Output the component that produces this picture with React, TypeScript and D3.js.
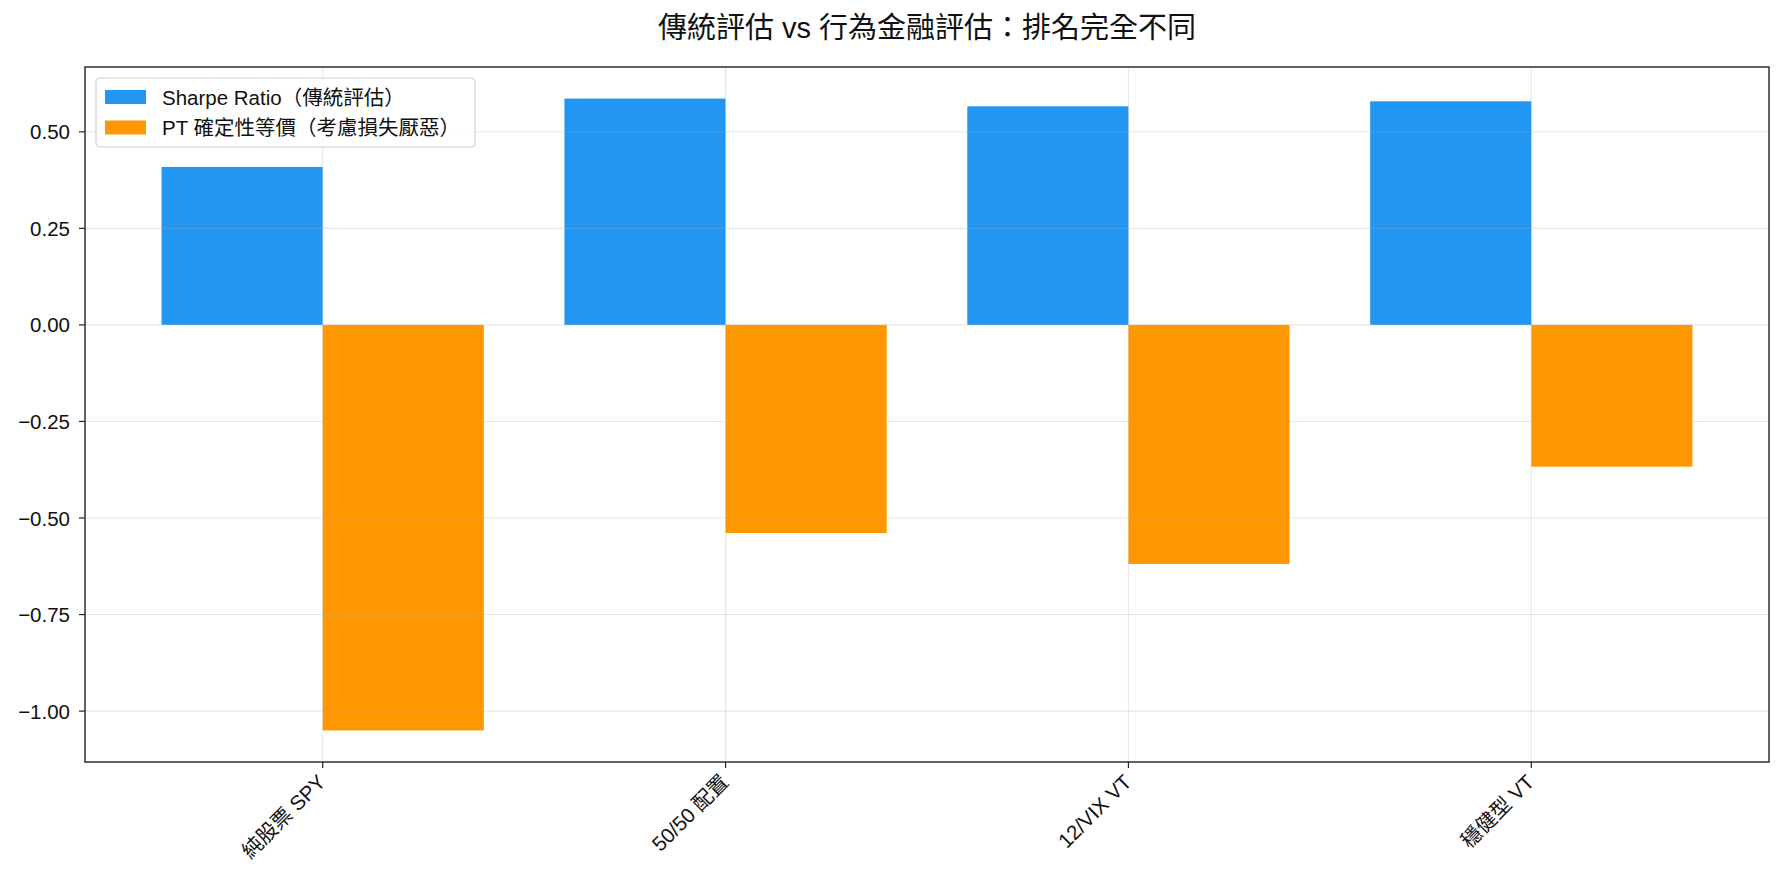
import React, { useEffect, useRef } from 'react';
import * as d3 from 'd3';

const categories = ['純股票 SPY', '50/50 配置', '12/VIX VT', '穩健型 VT'];
const sharpeValues = [0.409, 0.586, 0.566, 0.579];
const ptValues = [-1.05, -0.539, -0.619, -0.367];
const seriesNames = ['Sharpe Ratio（傳統評估）', 'PT 確定性等價（考慮損失厭惡）'];
const yTicks = [0.5, 0.25, 0, -0.25, -0.5, -0.75, -1.0];
const title = '傳統評估 vs 行為金融評估：排名完全不同';

const App: React.FC = () => {
  const svgRef = useRef<SVGSVGElement>(null);
  const width = 1784;
  const height = 883;

  useEffect(() => {
    document.body.style.margin = '0';
    document.body.style.overflow = 'hidden';
    if (!svgRef.current) return;
    const svg = d3.select(svgRef.current);
    svg.selectAll('*').remove();

    const font = '"Liberation Sans", "Noto Sans CJK TC", sans-serif';
    const left = 85, right = 1769, top = 67, bottom = 762;
    const barW = 0.4;

    // matplotlib-like 5% margins
    const xMin = -barW, xMax = categories.length - 1 + barW;
    const xPad = (xMax - xMin) * 0.05;
    const allVals = [...sharpeValues, ...ptValues, 0];
    const yMin = d3.min(allVals)!, yMax = d3.max(allVals)!;
    const yPad = (yMax - yMin) * 0.05;

    const x = d3.scaleLinear().domain([xMin - xPad, xMax + xPad]).range([left, right]);
    const y = d3.scaleLinear().domain([yMin - yPad, yMax + yPad]).range([bottom, top]);

    svg.append('rect').attr('width', width).attr('height', height).attr('fill', '#fff');

    // bars
    const bars = svg.append('g');
    bars.selectAll('.sharpe')
      .data(sharpeValues)
      .enter()
      .append('rect')
      .attr('x', (_, i) => x(i - barW))
      .attr('width', x(barW) - x(0))
      .attr('y', d => y(Math.max(0, d)))
      .attr('height', d => Math.abs(y(d) - y(0)))
      .attr('fill', '#2196F3');
    bars.selectAll('.pt')
      .data(ptValues)
      .enter()
      .append('rect')
      .attr('x', (_, i) => x(i))
      .attr('width', x(barW) - x(0))
      .attr('y', d => y(Math.max(0, d)))
      .attr('height', d => Math.abs(y(d) - y(0)))
      .attr('fill', '#FF9800');

    // grid on top, translucent
    const grid = svg.append('g').attr('stroke', '#b0b0b0').attr('stroke-opacity', 0.3).attr('stroke-width', 1.1);
    yTicks.forEach(t => {
      grid.append('line').attr('x1', left).attr('x2', right).attr('y1', y(t)).attr('y2', y(t));
    });
    categories.forEach((_, i) => {
      grid.append('line').attr('x1', x(i)).attr('x2', x(i)).attr('y1', top).attr('y2', bottom);
    });

    // frame
    svg.append('rect')
      .attr('x', left).attr('y', top)
      .attr('width', right - left).attr('height', bottom - top)
      .attr('fill', 'none').attr('stroke', '#222').attr('stroke-width', 1.4);

    // y ticks
    const yAxis = svg.append('g');
    yTicks.forEach(t => {
      yAxis.append('line').attr('x1', left - 6).attr('x2', left).attr('y1', y(t)).attr('y2', y(t))
        .attr('stroke', '#222').attr('stroke-width', 1.2);
      yAxis.append('text')
        .attr('x', left - 15).attr('y', y(t))
        .attr('text-anchor', 'end').attr('dominant-baseline', 'central')
        .style('font-family', font).style('font-size', '20.5px').attr('fill', '#111')
        .text(t < 0 ? '\u2212' + Math.abs(t).toFixed(2) : t.toFixed(2));
    });

    // x ticks, labels rotated 45deg and right-aligned to the tick
    const xAxis = svg.append('g');
    categories.forEach((c, i) => {
      xAxis.append('line').attr('x1', x(i)).attr('x2', x(i)).attr('y1', bottom).attr('y2', bottom + 6)
        .attr('stroke', '#222').attr('stroke-width', 1.2);
      xAxis.append('text')
        .attr('transform', `translate(${x(i) - 1},${bottom + 16}) rotate(-45)`)
        .attr('text-anchor', 'end').attr('dominant-baseline', 'central')
        .style('font-family', font).style('font-size', '20.5px').attr('fill', '#111')
        .text(c);
    });

    // title
    svg.append('text')
      .attr('x', (left + right) / 2).attr('y', 28)
      .attr('text-anchor', 'middle').attr('dominant-baseline', 'central')
      .style('font-family', font).style('font-size', '29px').attr('fill', '#111')
      .text(title);

    // legend
    const lg = svg.append('g');
    lg.append('rect').attr('x', 96).attr('y', 78).attr('width', 379).attr('height', 69)
      .attr('rx', 4).attr('fill', '#fff').attr('fill-opacity', 0.8)
      .attr('stroke', '#d0d0d0').attr('stroke-width', 1.2);
    const colors = ['#2196F3', '#FF9800'];
    seriesNames.forEach((name, i) => {
      const cy = 97 + i * 30.5;
      lg.append('rect').attr('x', 105).attr('y', cy - 7).attr('width', 41).attr('height', 14).attr('fill', colors[i]);
      lg.append('text').attr('x', 162).attr('y', cy)
        .attr('dominant-baseline', 'central')
        .style('font-family', font).style('font-size', '20.5px').attr('fill', '#111')
        .text(name);
    });
  }, []);

  return <svg ref={svgRef} width={width} height={height} style={{ display: 'block' }} />;
};

export default App;
